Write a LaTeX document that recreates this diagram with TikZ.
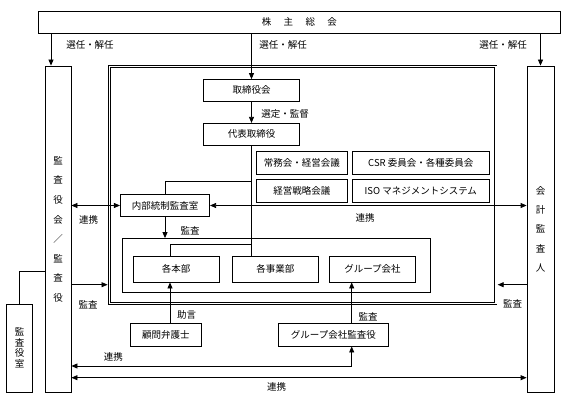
\documentclass[tikz,border=0pt]{standalone}
\usepackage{fontspec}
\setmainfont{Noto Sans CJK JP}
\usetikzlibrary{arrows.meta}
\tikzset{
    box/.style={draw, line width=0.8pt, inner sep=0pt, font=\fontsize{9.5}{11}\selectfont},
    lbl/.style={inner sep=0pt, font=\fontsize{9.5}{11}\selectfont},
    conn/.style={line width=0.8pt},
    arr/.style={conn, -{Triangle[length=6pt,width=5pt]}},
    darr/.style={conn, {Triangle[length=6pt,width=5pt]}-{Triangle[length=6pt,width=5pt]}},
}

\begin{document}
\begin{tikzpicture}[x=1pt,y=-1pt]
    \useasboundingbox (0,0) rectangle (579,404);
    % boxes
    \node[box, minimum width=521.3, minimum height=22] (sokai) at (299.35,22) {株\hspace{1.3em}主\hspace{1.3em}総\hspace{1.3em}会};
    \node[box, minimum width=26, minimum height=326.6, align=center, font=\fontsize{9.5}{19.6}\selectfont] (kansayaku) at (58,229.3) {監\\査\\役\\会\\／\\監\\査\\役};
    \node[box, minimum width=27, minimum height=326.7, align=center, font=\fontsize{9.5}{19.4}\selectfont] (kaikei) at (540.5,229.35) {会\\計\\監\\査\\人};
    \node[box, minimum width=25.6, minimum height=88, align=center, font=\fontsize{9.5}{10.5}\selectfont] (shitsu) at (19.5,348) {監\\査\\役\\室};
    \node[draw, double, line width=0.7pt, double distance=1.6pt, minimum width=386.2, minimum height=236.8, inner sep=0pt] (waku) at (302.6,184.9) {};
    \node[box, minimum width=96.4, minimum height=21.5] (torishimari) at (251.5,90.3) {取締役会};
    \node[box, minimum width=96.4, minimum height=22] (daihyo) at (251.5,134.3) {代表取締役};
    \node[box, minimum width=90.3, minimum height=22.3] (jomu) at (301.9,162.9) {常務会・経営会議};
    \node[box, minimum width=136.5, minimum height=22.3] (csr) at (420.8,162.9) {CSR 委員会・各種委員会};
    \node[box, minimum width=90.3, minimum height=23] (senryaku) at (301.9,190.6) {経営戦略会議};
    \node[box, minimum width=136.5, minimum height=23] (iso) at (420.8,190.6) {ISO マネジメントシステム};
    \node[box, minimum width=89.3, minimum height=22.4] (naibu) at (165,205.5) {内部統制監査室};
    \node[box, minimum width=307.3, minimum height=53.8] (soshiki) at (276.4,265.4) {};
    \node[box, minimum width=86, minimum height=26] (honbu) at (176,269) {各本部};
    \node[box, minimum width=86, minimum height=26] (jigyo) at (275.3,269) {各事業部};
    \node[box, minimum width=86.4, minimum height=26] (group) at (372.5,269) {グループ会社};
    \node[box, minimum width=71, minimum height=22.6] (komon) at (165.8,335) {顧問弁護士};
    \node[box, minimum width=110, minimum height=22.7] (gkansa) at (333.3,334.7) {グループ会社監査役};
    \coordinate (hx) at (170,0);
    \coordinate (gx) at (351.7,0);
    % connectors
    \draw[arr] (51,0 |- sokai.south) -- (51,0 |- kansayaku.north);
    \draw[arr] (sokai.south -| torishimari.north) -- (torishimari.north);
    \draw[arr] (sokai.south -| kaikei.north) -- (kaikei.north);
    \draw[arr] (torishimari) -- (daihyo);
    \draw[conn] (daihyo.south) -- (daihyo.south |- jigyo.north);
    \draw[conn] (daihyo.south |- 0,181) -| (naibu.north);
    \draw[conn] (daihyo.south |- 0,244.3) -| (hx |- honbu.north);
    \draw[arr] (naibu.south) -- (naibu.south |- soshiki.north);
    \draw[darr] (kansayaku.east |- naibu.west) -- (naibu.west);
    \draw[darr] (naibu.east) -- (naibu.east -| kaikei.west);
    \draw[arr, shorten >=1.6pt] (kansayaku.east |- 0,284.7) -- (waku.west |- 0,284.7);
    \draw[arr, shorten >=1.6pt] (kaikei.west |- 0,284.7) -- (waku.east |- 0,284.7);
    \draw[arr] (hx |- komon.north) -- (hx |- honbu.south);
    \draw[arr] (gx |- gkansa.north) -- (gx |- group.south);
    \draw[darr] (kansayaku.east |- 0,366) -| (gx |- gkansa.south);
    \draw[darr] (kansayaku.east |- 0,377.7) -- (kaikei.west |- 0,377.7);
    \draw[conn] (shitsu.north) |- (kansayaku.west |- 0,271);
    % labels
    \node[lbl] (senninL) at (90,45) {選任・解任};
    \node[lbl] (senninC) at (283,45) {選任・解任};
    \node[lbl] (senninR) at (503,45) {選任・解任};
    \node[lbl] (sentei) at (285,114) {選定・監督};
    \node[lbl] (renkeiL) at (88.7,220) {連携};
    \node[lbl] (renkeiR) at (365,217.7) {連携};
    \node[lbl] (kansaN) at (190,230.7) {監査};
    \node[lbl] (kansaL) at (88,304.3) {監査};
    \node[lbl] (kansaR) at (512.7,303.3) {監査};
    \node[lbl] (jogen) at (186.7,315) {助言};
    \node[lbl] (kansaG) at (368,316.7) {監査};
    \node[lbl] (renkeiG) at (113.3,357.3) {連携};
    \node[lbl] (renkeiB) at (276.7,387.3) {連携};
\end{tikzpicture}
\end{document}
